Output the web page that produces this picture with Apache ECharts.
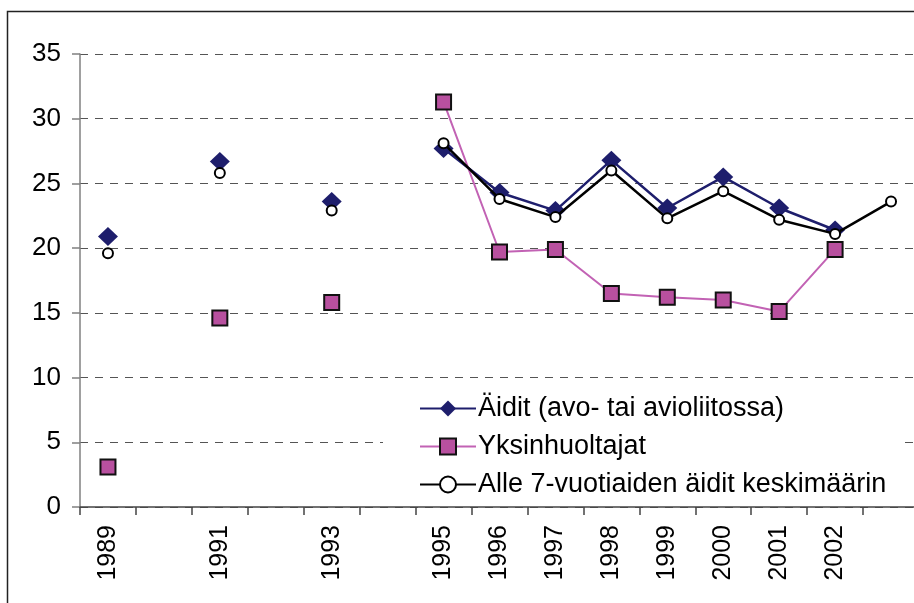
<!DOCTYPE html>
<html>
<head>
<meta charset="utf-8">
<script src="https://cdn.jsdelivr.net/npm/echarts@6/dist/echarts.min.js"></script>
<style>
  html, body { margin: 0; padding: 0; background: #ffffff; overflow: hidden; }
  /* the plot runs slightly past the right edge of the window */
  #chart { width: 940px; height: 603px; }
</style>
</head>
<body>
<div id="chart"></div>
<script>
// Years on the category axis; empty slots are the years without a survey
const categories = ['1989', '', '1991', '', '1993', '', '1995', '1996', '1997', '1998', '1999', '2000', '2001', '2002', ''];

const seriesNames = [
  'Äidit (avo- tai avioliitossa)',
  'Yksinhuoltajat',
  'Alle 7-vuotiaiden äidit keskimäärin'
];

const aiditValues = [20.9, null, 26.7, null, 23.6, null, 27.7, 24.3, 22.9, 26.8, 23.1, 25.5, 23.1, 21.4, null];
const yksinhuoltajatValues = [3.1, null, 14.6, null, 15.8, null, 31.3, 19.7, 19.9, 16.5, 16.2, 16.0, 15.1, 19.9, null];
const keskimaarinValues = [19.6, null, 25.8, null, 22.9, null, 28.1, 23.8, 22.4, 26.0, 22.3, 24.4, 22.2, 21.1, 23.6];

const yTicks = { min: 0, max: 35, interval: 5 };

const FONT = '"Liberation Sans", Arial, sans-serif';

const chart = echarts.init(document.getElementById('chart'), null, { renderer: 'canvas' });

chart.setOption({
  animation: false,
  backgroundColor: '#ffffff',
  textStyle: { fontFamily: FONT, color: '#000' },
  graphic: [{
    type: 'rect',
    shape: { x: 7.5, y: 11.5, width: 2000, height: 2000 },
    style: { fill: 'none', stroke: '#222', lineWidth: 1.5 },
    z: -10,
    silent: true
  }],
  grid: { left: 80, top: 54, width: 839, height: 453, containLabel: false },
  legend: {
    orient: 'vertical',
    left: 383,
    top: 385,
    padding: [10, 16, 2, 36],
    backgroundColor: '#ffffff',
    itemWidth: 56,
    itemHeight: 20,
    itemGap: 11,
    textStyle: { fontFamily: FONT, fontSize: 27, color: '#000', padding: [0, 0, 0, -3] },
    data: seriesNames
  },
  xAxis: {
    type: 'category',
    data: categories,
    boundaryGap: true,
    axisLine: { lineStyle: { color: '#444', width: 1.5 } },
    axisTick: { show: true, length: 8, interval: 0, lineStyle: { color: '#444', width: 1.5 } },
    axisLabel: { interval: 0, rotate: 90, margin: 18, fontSize: 25, fontFamily: FONT, color: '#000' },
    splitLine: { show: false }
  },
  yAxis: {
    type: 'value',
    min: yTicks.min,
    max: yTicks.max,
    interval: yTicks.interval,
    axisLine: { show: true, lineStyle: { color: '#808080', width: 1.5 } },
    axisTick: { show: true, length: 8, inside: false, lineStyle: { color: '#808080', width: 1.5 } },
    axisLabel: { margin: 19, fontSize: 26, fontFamily: FONT, color: '#000' },
    splitLine: { show: true, lineStyle: { color: '#555', width: 1.2, type: [8, 7] } }
  },
  series: [
    {
      name: seriesNames[0],
      type: 'line',
      data: aiditValues,
      connectNulls: false,
      symbol: 'diamond',
      symbolSize: [20, 19],
      lineStyle: { color: '#1e1e6c', width: 2.5 },
      itemStyle: { color: '#1e1e6c', borderWidth: 0 },
      z: 2
    },
    {
      name: seriesNames[1],
      type: 'line',
      data: yksinhuoltajatValues,
      connectNulls: false,
      symbol: 'rect',
      symbolSize: 15,
      lineStyle: { color: '#c262b4', width: 2 },
      itemStyle: { color: '#b8509f', borderColor: '#111', borderWidth: 2 },
      z: 3
    },
    {
      name: seriesNames[2],
      type: 'line',
      data: keskimaarinValues,
      connectNulls: false,
      symbol: 'circle',
      symbolSize: 10,
      showAllSymbol: true,
      lineStyle: { color: '#000', width: 2.5 },
      itemStyle: { color: '#ffffff', borderColor: '#000', borderWidth: 2 },
      z: 4
    }
  ]
});
</script>
</body>
</html>
